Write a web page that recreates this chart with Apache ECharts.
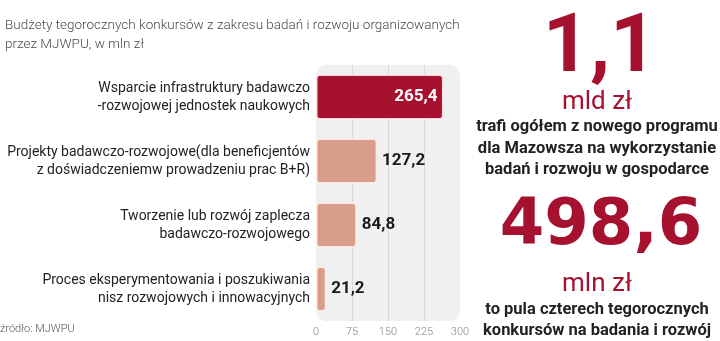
<!DOCTYPE html>
<html>
<head>
<meta charset="utf-8">
<script src="https://cdn.jsdelivr.net/npm/echarts@6/dist/echarts.min.js"></script>
<style>
  html, body { margin: 0; padding: 0; background: #ffffff; }
  #chart { width: 720px; height: 341px; }
</style>
</head>
<body>
<div id="chart"></div>
<script>
// Budgets of this year's R&D competitions (mln zł)
const categories = [
  'Wsparcie infrastruktury badawczo\n-rozwojowej jednostek naukowych',
  'Projekty badawczo-rozwojowe(dla beneficjentów\nz doświadczeniemw prowadzeniu prac B+R)',
  'Tworzenie lub rozwój zaplecza\nbadawczo-rozwojowego',
  'Proces eksperymentowania i poszukiwania\nnisz rozwojowych i innowacyjnych'
];
const values = [265.4, 127.2, 84.8, 21.2];
const axisTicks = [0, 75, 150, 225, 300];

const titleLines = 'Budżety tegorocznych konkursów z zakresu badań i rozwoju organizowanych\nprzez MJWPU, w mln zł';
const sourceText = 'źródło: MJWPU';
const bigTotal = '1,1';
const bigTotalUnit = 'mld zł';
const totalNote = ['trafi ogółem z nowego programu', 'dla Mazowsza na wykorzystanie', 'badań i rozwoju w gospodarce'];
const bigPool = '498,6';
const bigPoolUnit = 'mln zł';
const poolNote = ['to pula czterech tegorocznych', 'konkursów na badania i rozwój'];

const RED = '#a5112f';
const SALMON = '#d99e89';
const fmt = v => v.toFixed(1).replace('.', ',');

const GRID = { left: 316, right: 260, top: 65, bottom: 20 };

const chart = echarts.init(document.getElementById('chart'));

const barData = values.map((v, i) => ({
  value: v,
  itemStyle: { color: i === 0 ? RED : SALMON },
  label: i === 0
    ? { position: 'insideRight', color: '#ffffff', distance: 6 }
    : { position: 'right', color: '#1a1a1a', distance: 5 }
}));

const CX = 597;
const sideText = (text, x, y, size, weight, color, family) => ({
  type: 'text', x: x, y: y,
  style: {
    text: text, align: 'center', verticalAlign: 'middle',
    font: `${weight} ${size}px ${family}`, fill: color
  }
});

chart.setOption({
  animation: false,
  title: {
    text: titleLines, left: 0, top: 11,
    textStyle: { fontFamily: 'Roboto', fontWeight: 300, fontSize: 13.5, color: '#4a4a4a', lineHeight: 19 }
  },
  grid: GRID,
  xAxis: {
    type: 'value', min: 0, max: 300, interval: 75, position: 'bottom',
    axisLine: { show: false }, axisTick: { show: false },
    axisLabel: { color: '#8a8a8a', fontFamily: 'Roboto', fontWeight: 300, fontSize: 11, margin: 6,
      formatter: v => axisTicks.includes(v) ? String(v) : '' },
    splitLine: { show: true, showMinLine: false, showMaxLine: false, lineStyle: { color: '#d8d8d8', width: 1 } }
  },
  yAxis: {
    type: 'category', data: categories, inverse: true,
    axisLine: { show: false }, axisTick: { show: false },
    axisLabel: { color: '#222222', fontFamily: 'Roboto', fontSize: 14, lineHeight: 18, margin: 6, align: 'right' }
  },
  series: [{
    type: 'bar', data: barData, barWidth: 45, z: 3,
    itemStyle: { borderColor: 'rgba(255,240,235,0.85)', borderWidth: 1.5, borderRadius: 3 },
    label: { show: true, fontFamily: 'Roboto', fontWeight: 700, fontSize: 17, formatter: p => fmt(p.value) }
  }],
  graphic: [
    { type: 'rect', z: -10, shape: { x: GRID.left, y: GRID.top, width: 720 - GRID.left - GRID.right, height: 341 - GRID.top - GRID.bottom, r: 10 },
      style: { fill: '#f0f0f0' } },
    { type: 'text', left: 0, top: 324, style: { text: sourceText, font: '300 11px Roboto', fill: '#555555' } },
    sideText(bigTotal, 600, 50, 82, 'bold', RED, 'Roboto'),
    sideText(bigTotalUnit, 597, 102, 26, 'normal', RED, 'Roboto'),
    sideText(totalNote[0], CX, 127, 16.5, 'bold', '#222222', 'Roboto'),
    sideText(totalNote[1], CX, 148.5, 16.5, 'bold', '#222222', 'Roboto'),
    sideText(totalNote[2], CX, 170, 16.5, 'bold', '#222222', 'Roboto'),
    sideText(bigPool, 601, 227, 64, 'bold', RED, '"DejaVu Sans"'),
    sideText(bigPoolUnit, 597, 284, 26, 'normal', RED, 'Roboto'),
    sideText(poolNote[0], CX, 310, 16.5, 'bold', '#222222', 'Roboto'),
    sideText(poolNote[1], CX, 331, 16.5, 'bold', '#222222', 'Roboto')
  ]
});
</script>
</body>
</html>
